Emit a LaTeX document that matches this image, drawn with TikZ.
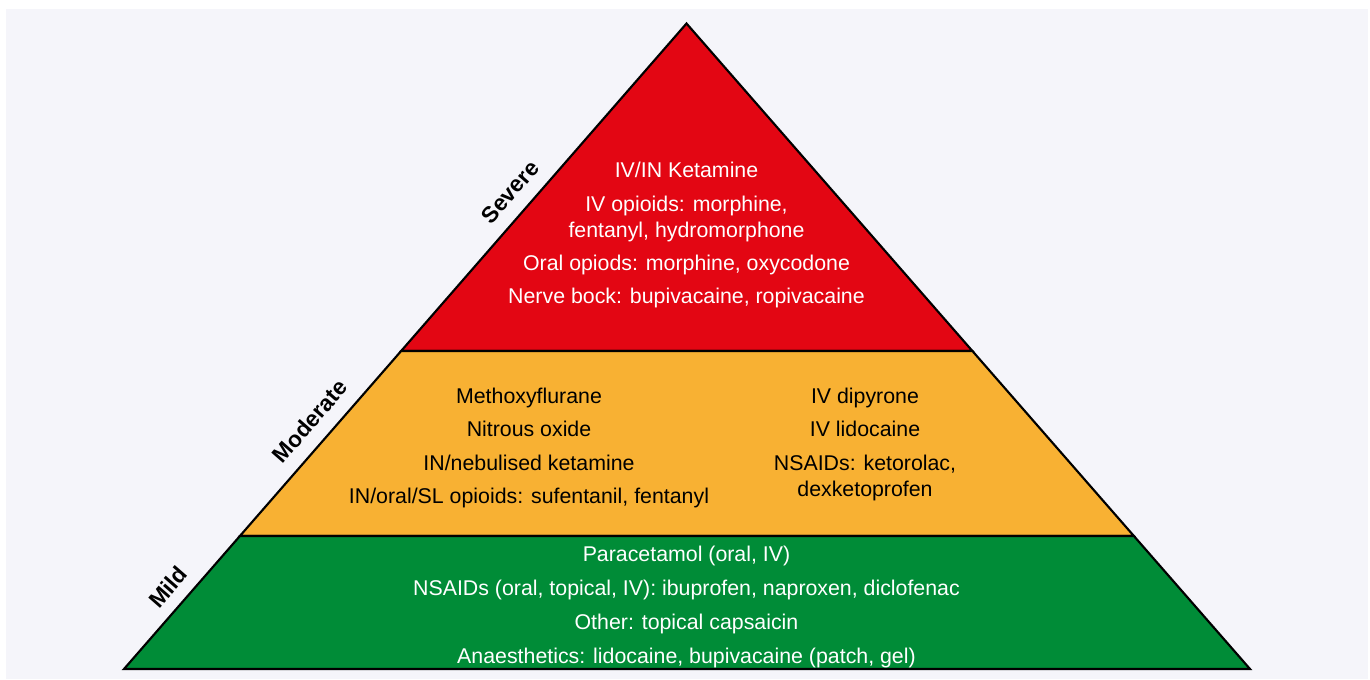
\documentclass[tikz,border=0pt]{standalone}
\usepackage{fontspec}
\setmainfont{Liberation Sans}
\usetikzlibrary{calc, positioning}
\definecolor{bggrey}{HTML}{F5F5FA}
\definecolor{severered}{HTML}{E30613}
\definecolor{moderateorange}{HTML}{F8B133}
\definecolor{mildgreen}{HTML}{008C37}
\tikzstyle{tier} = [draw=black, line width=1.6pt, line join=miter]
\tikzstyle{drug} = [anchor=base, inner sep=0pt, align=center, font=\fontsize{16}{19.5}\selectfont]
\tikzstyle{level} = [rotate=48.9, inner sep=0pt, font=\fontsize{17}{20}\selectfont\bfseries]

\begin{document}
\begin{tikzpicture}[x=0.75pt, y=-0.75pt]

% Canvas
\useasboundingbox (0,0) rectangle (1370,679);
\fill[white] (0,0) rectangle (1370,679);
\fill[bggrey] (6,9) rectangle (1368,679);

% Pyramid corners
\coordinate (apex) at (686.5,23.5);
\coordinate (bl) at (124,669);
\coordinate (br) at (1250,669);
\coordinate (rl) at ($(bl)!0.4926!(apex)$);
\coordinate (rr) at ($(br)!0.4926!(apex)$);
\coordinate (ol) at ($(bl)!0.206!(apex)$);
\coordinate (or) at ($(br)!0.206!(apex)$);

% Tiers
\filldraw [tier, fill=severered] (apex) -- (rl) -- (rr) -- cycle;
\filldraw [tier, fill=moderateorange] (rl) -- (ol) -- (or) -- (rr) -- cycle;
\filldraw [tier, fill=mildgreen] (ol) -- (bl) -- (br) -- (or) -- cycle;

% Level labels
\node (severe) [level] at (510,192) {Severe};
\node (moderate) [level] at (310,421) {Moderate};
\node (mild) [level] at (168,587) {Mild};

% Severe (two-line nodes sit on their last baseline)
\node (ketamine) [drug, text=white] at (686.5,177.5) {IV/IN Ketamine};
\node (ivopioids) [drug, text=white] at (686.5,237.5) {IV opioids: morphine,\\fentanyl, hydromorphone};
\node (oralopioids) [drug, text=white] at (686.5,270.5) {Oral opiods: morphine, oxycodone};
\node (nerveblock) [drug, text=white] at (686.5,303.5) {Nerve bock: bupivacaine, ropivacaine};

% Moderate
\node (methoxy) [drug] at (529,403.5) {Methoxyflurane};
\node (nitrous) [drug] at (529,436.5) {Nitrous oxide};
\node (nebket) [drug] at (529,470.5) {IN/nebulised ketamine};
\node (slopioids) [drug] at (529,503.5) {IN/oral/SL opioids: sufentanil, fentanyl};
\node (dipyrone) [drug] at (865,403.5) {IV dipyrone};
\node (lidocaine) [drug] at (865,436.5) {IV lidocaine};
\node (nsaidsiv) [drug] at (865,496.5) {NSAIDs: ketorolac,\\dexketoprofen};

% Mild
\node (paracetamol) [drug, text=white] at (686.5,561.5) {Paracetamol (oral, IV)};
\node (nsaids) [drug, text=white] at (686.5,595.5) {NSAIDs (oral, topical, IV): ibuprofen, naproxen, diclofenac};
\node (capsaicin) [drug, text=white] at (686.5,629.5) {Other: topical capsaicin};
\node (anaesthetics) [drug, text=white] at (686.5,663.5) {Anaesthetics: lidocaine, bupivacaine (patch, gel)};

\end{tikzpicture}
\end{document}
